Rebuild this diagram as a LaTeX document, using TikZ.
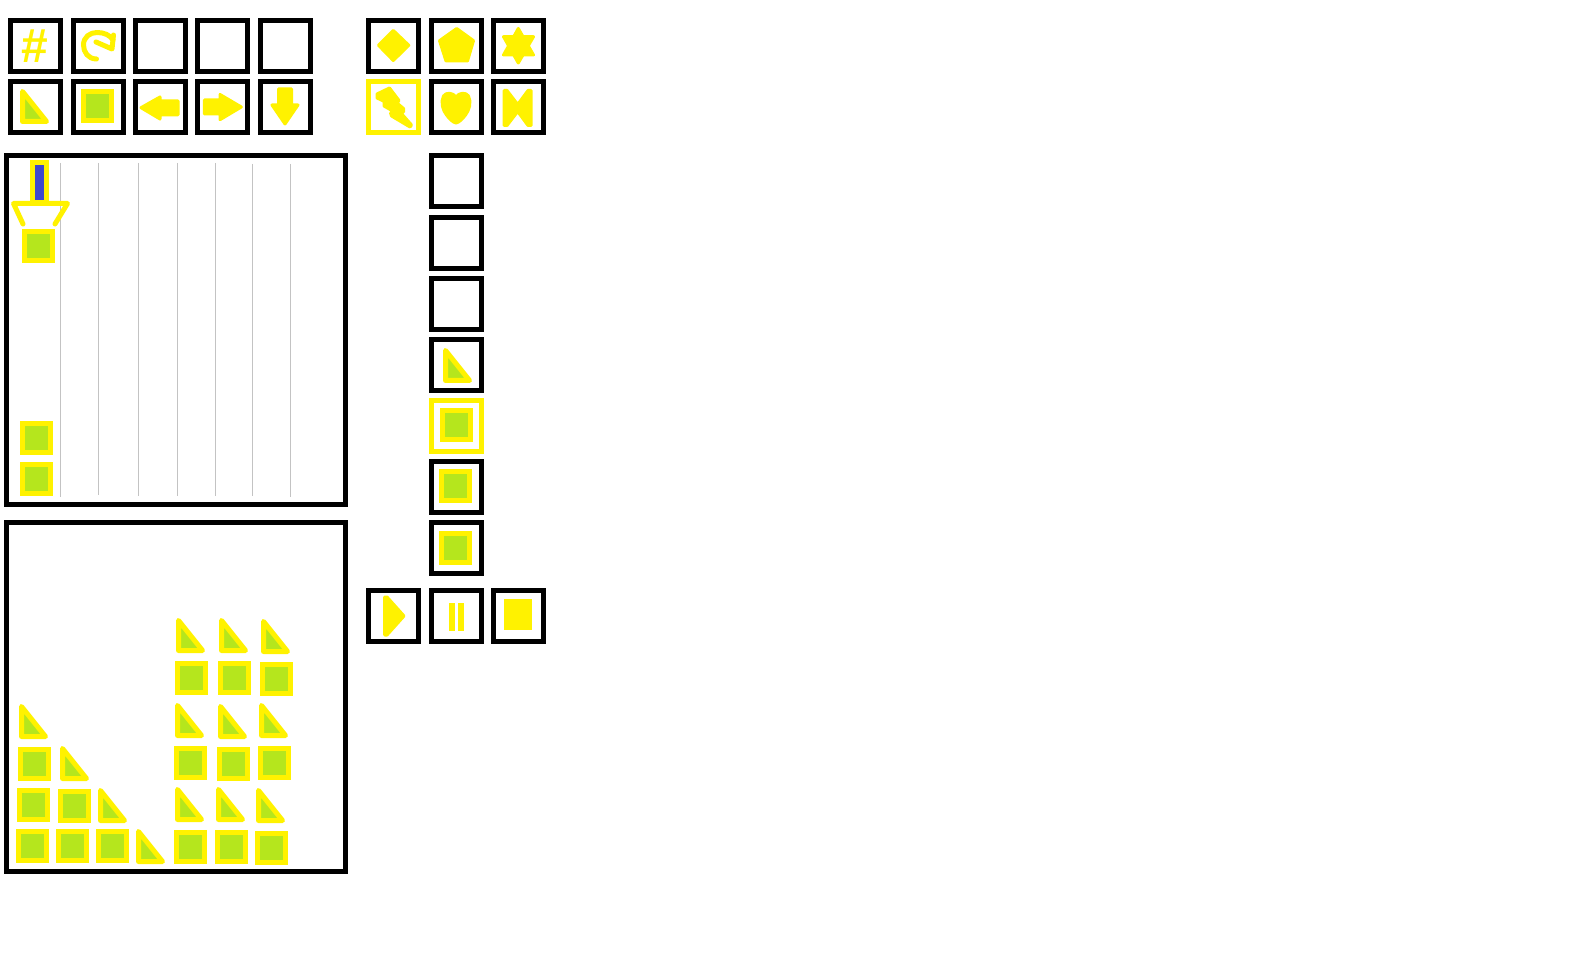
\documentclass[tikz,border=0pt]{standalone}
\usepackage{fontspec}
\setmainfont{Liberation Sans}
\usepackage{tikz}

\definecolor{gameyellow}{HTML}{FFF200}
\definecolor{gamegreen}{HTML}{B5E61D}
\definecolor{gameblue}{HTML}{3F48CC}
\definecolor{gamegrey}{HTML}{C3C3C3}

\tikzset{
  panel/.style={draw=black,line width=2.5pt,fill=white},
  btn/.style={draw=black,line width=2.5pt,fill=white},
  btnon/.style={draw=gameyellow,line width=2.5pt,fill=white},
  block/.style={draw=gameyellow,fill=gamegreen,line width=2.5pt},
  wedge/.style={draw=gameyellow,fill=gamegreen,line width=2.5pt,line join=round},
  icon/.style={fill=gameyellow,draw=gameyellow,line width=1.5pt,line join=round},
  iconline/.style={draw=gameyellow,line width=2.5pt,line cap=round,line join=round},
  gridline/.style={draw=gamegrey,line width=0.5pt}
}

% left and top of the outer edge
\newcommand{\blockat}[2]{\draw[block] (#1+2.5,#2+2.5) rectangle (#1+30.5,#2+31.5);}
\newcommand{\wedgeat}[2]{\draw[wedge] (#1+2.5,#2+2.5) -- (#1+2.5,#2+32.5) -- (#1+26.5,#2+32.5) -- cycle;}
% centre of a button
\newcommand{\btnat}[3][btn]{\draw[#1] (#2-25,#3-25.5) rectangle (#2+25,#3+25.5);}

\begin{document}
\begin{tikzpicture}[x=0.5pt,y=-0.5pt]
\useasboundingbox (0,0) rectangle (1582,961);

% buttons on top
\foreach \bx in {35.5,98.5,160.5,222.5,285.5}
  \foreach \by in {46,107} {\btnat{\bx}{\by}}
\foreach \bx in {393.5,456.5,518.5} {
  \btnat{\bx}{46}
  \btnat{\bx}{107}
  \btnat{\bx}{616}
}
\btnat[btnon]{393.5}{107}
\foreach \by in {181.5,243,304,365,487,548} {\btnat{456.5}{\by}}
\btnat[btnon]{456.5}{426}

% the two panels
\draw[panel] (6.5,155.5) rectangle (345.5,504.5);
\draw[panel] (6.5,522.5) rectangle (345.5,871.5);
\foreach \gx/\gtop/\gend in {60.5/163/497,98.5/163/495,138.5/163/496,177.5/163/496,215.5/163/496,252.5/164/496,290.5/164/497}
  \draw[gridline] (\gx,\gtop) -- (\gx,\gend);

% falling piece
\draw[draw=gameyellow,fill=gameblue,line width=2.5pt] (32.5,162.5) rectangle (46.5,203);
\draw[iconline] (23,224) -- (13.5,203.5) -- (67.5,203.5) -- (55,224);
\blockat{22}{229}
\blockat{20}{421}
\blockat{20}{462}

% stacked blocks
\wedgeat{19}{704}
\blockat{18}{747}
\wedgeat{60}{746}
\blockat{17}{788}
\blockat{58}{789}
\wedgeat{98}{788}
\blockat{16}{829}
\blockat{56}{829}
\blockat{96}{829}
\wedgeat{136}{829}

\wedgeat{176}{618}
\wedgeat{219}{618}
\wedgeat{261}{619}
\blockat{175}{661}
\blockat{218}{661}
\blockat{260}{662}
\wedgeat{175}{703}
\wedgeat{218}{704}
\wedgeat{259}{703}
\blockat{174}{746}
\blockat{217}{747}
\blockat{258}{746}
\wedgeat{175}{787}
\wedgeat{216}{787}
\wedgeat{256}{788}
\blockat{174}{830}
\blockat{215}{830}
\blockat{255}{831}

% icons, top row
\node[text=gameyellow,font=\fontsize{24}{24}\selectfont\bfseries] (hash) at (34.5,46) {\#};
\draw[iconline] (96.5,59) .. controls (88,59) and (83.5,52) .. (83.5,45) .. controls (83.5,37) and (90,32.5) .. (97,32.5) .. controls (104,32.5) and (110,35) .. (113,40);
\draw[iconline] (96,42) -- (112,49) -- (113.5,35);
\draw[icon] (378.5,45.3) -- (393.3,30.5) -- (408.8,45.3) -- (393.3,60.5) -- cycle;
\draw[icon] (456.7,28.5) -- (473.5,40.7) -- (467.5,61) -- (446,61) -- (439.5,40.7) -- cycle;
\draw[icon] (518.3,28.5) -- (533.5,55) -- (503.5,55) -- cycle;
\draw[icon] (518.3,63) -- (533.5,36.7) -- (503.5,36.7) -- cycle;

% icons, second row
\wedgeat{20}{89}
\blockat{81}{89}
\draw[icon] (141,107.7) -- (160,97) -- (160,101) -- (178,101) -- (178,115) -- (160,115) -- (160,119) -- cycle;
\draw[icon] (204.3,100) -- (220,100) -- (220,94.5) -- (241.3,107) -- (220,119.7) -- (220,114) -- (204.3,114) -- cycle;
\draw[icon] (278.5,89) -- (291.5,89) -- (291.5,105) -- (298,105) -- (285,124) -- (272,105) -- (278.5,105) -- cycle;
\draw[icon] (377,94) -- (389.5,88) -- (399,100.5) -- (397,103) -- (403.5,108.5) -- (403.5,112) -- (400.5,112.5) -- (411.5,125) -- (410,127) -- (391.5,116) -- (390.5,113) -- (393.5,111.5) -- (384,106) -- (384,103) -- (386.5,102.5) -- (377,98) -- cycle;
\draw[icon] (456,97) .. controls (453,92.5) and (446,92) .. (443.5,96) .. controls (440.5,102) and (442.5,110) .. (446.5,115) .. controls (449.5,119) and (453,122.5) .. (456,123) .. controls (459,122.5) and (462.5,119) .. (465.5,115) .. controls (469.5,110) and (471.5,102) .. (468.5,96) .. controls (466,92) and (459,92.5) .. (456,97) -- cycle;
\draw[icon] (504,90.5) -- (507,90.5) -- (517.7,104.5) -- (528,90.5) -- (531,90.5) -- (531,125.5) -- (528,125.5) -- (517.7,111.5) -- (507,125.5) -- (504,125.5) -- cycle;

% icons, side column
\wedgeat{443}{348}
\blockat{440}{408}
\blockat{439}{469}
\blockat{439}{531}

% play, pause, stop
\draw[icon] (384.5,597) -- (387,597) -- (404,616) -- (387,635) -- (384.5,635) -- cycle;
\fill[gameyellow] (449,603) rectangle (455,631);
\fill[gameyellow] (458,603) rectangle (464,631);
\fill[gameyellow] (504,599) rectangle (532,630);
\end{tikzpicture}
\end{document}
